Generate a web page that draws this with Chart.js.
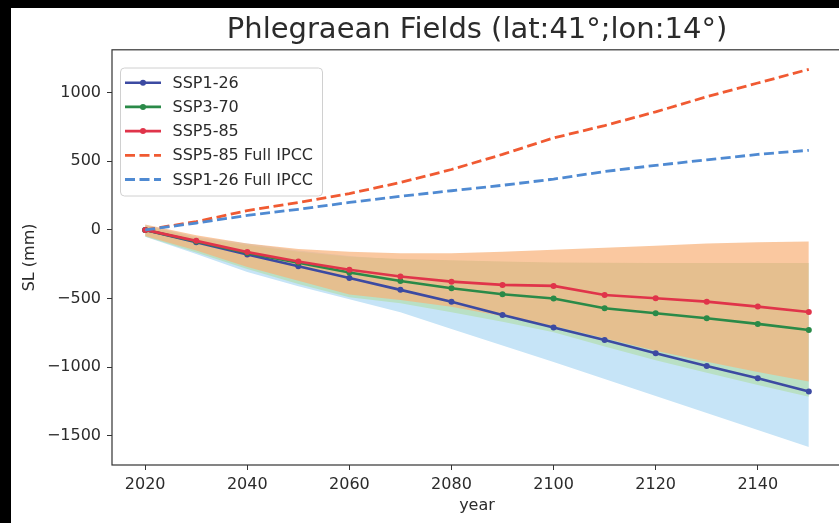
<!DOCTYPE html>
<html>
<head>
<meta charset="utf-8">
<script src="https://cdn.jsdelivr.net/npm/chart.js@4.4.0/dist/chart.umd.min.js"></script>
<style>
  html, body { margin: 0; padding: 0; background: #000; overflow: hidden; width: 839px; height: 523px; }
  #wrap { position: absolute; left: 11px; top: 8px; width: 840px; height: 515px; background: #fff; }
</style>
</head>
<body>
<div id="wrap"><canvas id="slChart" width="840" height="515"></canvas></div>
<script>
// years every decade
var years = [2020, 2030, 2040, 2050, 2060, 2070, 2080, 2090, 2100, 2110, 2120, 2130, 2140, 2150];

// median projections (mm)
var ssp126 = [0, -90, -180, -265, -350, -437, -523, -620, -712, -802, -899, -991, -1081, -1178];
var ssp370 = [0, -85, -168, -240, -310, -372, -425, -469, -500, -571, -607, -644, -685, -729];
var ssp585 = [0, -80, -162, -230, -290, -340, -377, -401, -408, -474, -498, -523, -559, -598];
var ipcc585 = [0, 60, 140, 200, 265, 345, 440, 550, 670, 760, 860, 970, 1070, 1170];
var ipcc126 = [0, 50, 105, 150, 200, 245, 285, 325, 370, 425, 470, 510, 550, 580];

// uncertainty bands
var band126Low = [-50, -175, -306, -410, -505, -600, -722, -842, -963, -1087, -1211, -1335, -1458, -1582];
var band126High = [35, -50, -100, -150, -190, -220, -260, -300, -340, -380, -420, -460, -500, -540];
var band370Low = [-48, -165, -285, -395, -490, -535, -600, -670, -745, -850, -950, -1040, -1130, -1215];
var band370High = [30, -60, -110, -160, -195, -213, -222, -230, -238, -240, -241, -241, -241, -241];
var band585Low = [-45, -150, -270, -370, -470, -510, -560, -630, -700, -790, -880, -960, -1035, -1105];
var band585High = [40, -40, -100, -140, -160, -170, -170, -160, -145, -130, -115, -100, -90, -85];

var xTicks = [2020, 2040, 2060, 2080, 2100, 2120, 2140];
var yTicks = [-1500, -1000, -500, 0, 500, 1000];

function pts(arr) {
    return years.map(function (x, i) { return { x: x, y: arr[i] }; });
}

Chart.defaults.font.family = 'DejaVu Sans';
Chart.defaults.color = '#2b2b2b';

function lineSet(label, arr, color, order, dashed) {
    return {
        label: label,
        data: pts(arr),
        borderColor: color,
        backgroundColor: color,
        borderWidth: dashed ? 2.8 : 2.6,
        borderDash: dashed ? [10, 4.5] : [],
        pointRadius: dashed ? 0 : 3,
        pointBorderWidth: 0,
        fill: false,
        tension: 0,
        order: order,
        inLegend: true
    };
}

function bandSet(arr, color, order, target) {
    return {
        data: pts(arr),
        borderWidth: 0,
        borderColor: 'rgba(0,0,0,0)',
        backgroundColor: color,
        pointRadius: 0,
        fill: target === null ? false : target,
        tension: 0,
        order: order
    };
}

var frame = {
    id: 'frame',
    afterDatasetsDraw: function (chart) {
        var a = chart.chartArea, c = chart.ctx;
        c.save();
        c.strokeStyle = '#333';
        c.lineWidth = 1.2;
        c.strokeRect(a.left, a.top, a.right - a.left, a.bottom - a.top);
        c.restore();
    }
};

var boxLegend = {
    id: 'boxLegend',
    afterDraw: function (chart) {
        var c = chart.ctx;
        var items = chart.data.datasets.filter(function (d) { return d.inLegend; });
        var x0 = 109.5, y0 = 60, w = 202, h = 128;
        c.save();
        c.fillStyle = 'rgba(255,255,255,0.85)';
        c.strokeStyle = '#d0d0d0';
        c.lineWidth = 1;
        c.beginPath();
        c.roundRect(x0, y0, w, h, 4);
        c.fill();
        c.stroke();
        c.font = '16px "DejaVu Sans"';
        c.textBaseline = 'middle';
        items.forEach(function (d, i) {
            var y = y0 + 14.7 + i * 24.2;
            c.strokeStyle = d.borderColor;
            c.lineWidth = d.borderWidth;
            c.setLineDash(d.borderDash);
            c.beginPath();
            c.moveTo(114, y);
            c.lineTo(150, y);
            c.stroke();
            c.setLineDash([]);
            if (d.pointRadius > 0) {
                c.fillStyle = d.borderColor;
                c.beginPath();
                c.arc(132, y, d.pointRadius, 0, Math.PI * 2);
                c.fill();
            }
            c.fillStyle = '#2b2b2b';
            c.fillText(d.label, 161.5, y + 1);
        });
        c.restore();
    }
};

var ctx = document.getElementById('slChart').getContext('2d');
var myChart = new Chart(ctx, {
    type: 'line',
    data: {
        datasets: [
            lineSet('SSP1-26', ssp126, '#3c4aa2', 4, false),
            lineSet('SSP3-70', ssp370, '#2a8a48', 3, false),
            lineSet('SSP5-85', ssp585, '#e0344a', 2, false),
            lineSet('SSP5-85 Full IPCC', ipcc585, '#f05a32', 1, true),
            lineSet('SSP1-26 Full IPCC', ipcc126, '#4f8ad2', 0, true),
            bandSet(band126Low, 'rgba(0,0,0,0)', 20, null),
            bandSet(band126High, '#c6e4f7', 19, 5),
            bandSet(band370Low, 'rgba(0,0,0,0)', 18, null),
            bandSet(band370High, '#b9e0c5', 17, 7),
            bandSet(band585Low, 'rgba(0,0,0,0)', 16, null),
            bandSet(band585High, 'rgba(248,176,119,0.7)', 15, 9)
        ]
    },
    options: {
        responsive: false,
        animation: false,
        layout: { padding: { left: 0, right: 9, top: 0, bottom: 0 } },
        plugins: {
            legend: { display: false },
            tooltip: { enabled: false },
            title: {
                display: true,
                fullSize: false,
                text: 'Phlegraean Fields (lat:41°;lon:14°)',
                color: '#2b2b2b',
                font: { size: 29, weight: 'normal' },
                padding: { top: 5, bottom: 2 }
            }
        },
        scales: {
            x: {
                type: 'linear',
                min: 2013.5,
                max: 2156.5,
                afterBuildTicks: function (s) { s.ticks = xTicks.map(function (v) { return { value: v }; }); },
                afterFit: function (s) { s.height = 58; },
                ticks: { font: { size: 16 }, padding: 5, maxRotation: 0, callback: function (v) { return String(v); } },
                grid: { display: true, drawOnChartArea: false, tickLength: 5, color: '#333' },
                border: { display: false },
                title: { display: true, text: 'year', font: { size: 16 }, padding: { top: 0, bottom: 8 } }
            },
            y: {
                min: -1713,
                max: 1312,
                afterBuildTicks: function (s) { s.ticks = yTicks.map(function (v) { return { value: v }; }); },
                afterFit: function (s) { s.width = 101; },
                ticks: {
                    font: { size: 16 },
                    padding: 6,
                    callback: function (v) { return v < 0 ? '\u2212' + Math.abs(v) : String(v); }
                },
                grid: { display: true, drawOnChartArea: false, tickLength: 5, color: '#333' },
                border: { display: false },
                title: { display: true, text: 'SL (mm)', font: { size: 16 }, padding: { top: 9, bottom: 0 } }
            }
        }
    },
    plugins: [frame, boxLegend]
});
</script>
</body>
</html>
